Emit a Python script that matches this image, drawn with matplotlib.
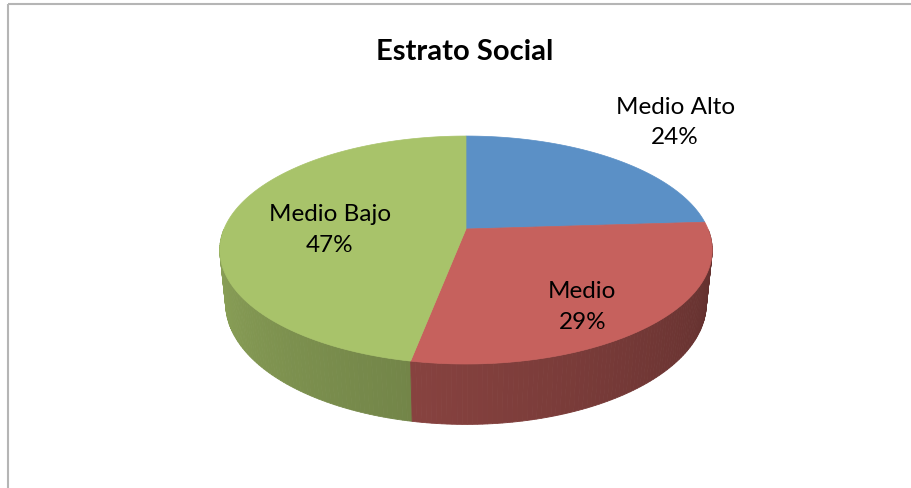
import numpy as np
import matplotlib.pyplot as plt
from matplotlib.patches import Polygon, Rectangle

# data
labels = ['Medio Alto', 'Medio', 'Medio Bajo']
values = [24, 29, 47]
top_colors = ['#5b90c6', '#c6615d', '#a8c36a']

# label placement (radius along mid angle, extra vertical shift in px)
label_r = [1.52, 0.66, 0.57]
label_dy = [-6, 17, 6]

plt.rcParams['font.family'] = ['Lato', 'DejaVu Sans']

# 3d pie geometry (pixel space)
cx, cy = 466, 230
dist = 4.83
focal = 242 * dist
se = 0.455
ce = np.sqrt(1 - se ** 2)
thick = 0.25


def project(theta, r=1.0, z=0.0):
    X = r * np.cos(theta)
    Y = r * np.sin(theta)
    yv = Y * se - z * ce
    zz = dist + Y * ce + z * se
    return cx + focal * X / zz, cy - focal * yv / zz


def shade(color, theta):
    phi = ((np.degrees(theta) + 180) % 360) - 180
    k = 0.85 - 0.38 * (phi + 180) / 180
    rgb = np.array(plt.matplotlib.colors.to_rgb(color))
    return tuple(np.clip(rgb * k, 0, 1))


fig = plt.figure(figsize=(9.11, 4.89), dpi=100)
ax = fig.add_axes([0, 0, 1, 1])
ax.set_xlim(0, 911)
ax.set_ylim(489, 0)
ax.axis('off')

total = sum(values)
cum = np.concatenate([[0], np.cumsum(values)]) / total
bounds = np.radians(90 - 360 * cum)

# side walls
quads = []
for i in range(len(values)):
    a0, a1 = bounds[i], bounds[i + 1]
    n = max(int(np.degrees(a0 - a1)), 2)
    th = np.linspace(a0, a1, n + 1)
    for j in range(n):
        t0, t1 = th[j], th[j + 1]
        mid = 0.5 * (t0 + t1)
        if np.sin(mid) >= 0:
            continue
        p = [project(t0), project(t1), project(t1, z=thick), project(t0, z=thick)]
        quads.append((np.sin(mid), p, shade(top_colors[i], mid)))

quads.sort(key=lambda q: -q[0])
for _, p, col in quads:
    ax.add_patch(Polygon(p, closed=True, facecolor=col, edgecolor=col, lw=0.6))

# top faces
for i in range(len(values)):
    a0, a1 = bounds[i], bounds[i + 1]
    th = np.linspace(a0, a1, 200)
    pts = [project(0, 0)] + [project(t) for t in th]
    ax.add_patch(Polygon(pts, closed=True, facecolor=top_colors[i],
                         edgecolor=top_colors[i], lw=0.5, zorder=3))

# labels
for i in range(len(values)):
    mid = 0.5 * (bounds[i] + bounds[i + 1])
    x, y = project(mid, label_r[i])
    ax.text(x, y + label_dy[i], f'{labels[i]}\n{values[i]}%', ha='center',
            va='center', fontsize=17.5, linespacing=1.55, color='black', zorder=5)

ax.text(465, 52, 'Estrato Social', ha='center', va='center',
        fontsize=21, fontweight='bold', zorder=5)

# chart frame
ax.add_patch(Rectangle((7.5, 4.5), 2000, 2000, fill=False,
                       edgecolor='#b5b5b5', lw=1.5, zorder=1))

plt.savefig('out.png', dpi=100)
plt.close()
